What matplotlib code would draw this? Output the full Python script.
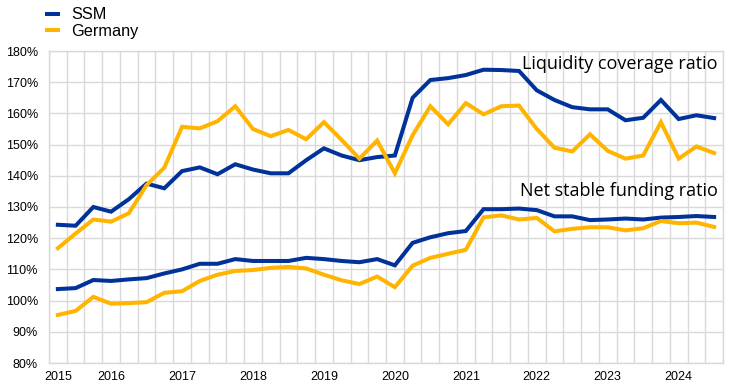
import numpy as np
import matplotlib
matplotlib.use("Agg")
import matplotlib.pyplot as plt

# quarterly data, 2015 Q2 - 2024 Q3
year_labels = ["2015", "2016", "2017", "2018", "2019", "2020", "2021", "2022", "2023", "2024"]
year_pos = [0, 3, 7, 11, 15, 19, 23, 27, 31, 35]

ssm_lcr = [124.3, 124.0, 130.0, 128.5, 132.5, 137.5, 136.0, 141.5, 142.7, 140.5,
           143.7, 142.0, 140.8, 140.8, 145.0, 148.8, 146.5, 145.0, 146.0, 146.5,
           165.0, 170.7, 171.3, 172.3, 174.0, 173.9, 173.6, 167.4, 164.3, 162.0,
           161.3, 161.3, 157.8, 158.6, 164.3, 158.2, 159.4, 158.5]
de_lcr = [116.8, 121.5, 126.0, 125.3, 128.0, 137.0, 142.6, 155.7, 155.2, 157.5,
          162.3, 155.0, 152.7, 154.7, 151.7, 157.2, 151.5, 145.5, 151.3, 140.8,
          153.0, 162.3, 156.5, 163.3, 159.7, 162.3, 162.5, 155.0, 149.0, 147.8,
          153.3, 148.0, 145.5, 146.5, 157.2, 145.5, 149.4, 147.3]
ssm_nsfr = [103.7, 104.0, 106.6, 106.3, 106.8, 107.2, 108.7, 110.0, 111.8, 111.8,
            113.3, 112.7, 112.7, 112.7, 113.7, 113.3, 112.7, 112.3, 113.3, 111.3,
            118.5, 120.3, 121.6, 122.3, 129.3, 129.3, 129.5, 129.0, 127.0, 127.0,
            125.8, 126.0, 126.3, 126.0, 126.6, 126.8, 127.1, 126.8]
de_nsfr = [95.4, 96.7, 101.2, 99.0, 99.2, 99.5, 102.5, 103.0, 106.3, 108.3,
           109.5, 109.8, 110.5, 110.8, 110.3, 108.3, 106.5, 105.3, 107.7, 104.3,
           111.2, 113.7, 115.0, 116.3, 126.7, 127.3, 126.0, 126.5, 122.2, 123.0,
           123.5, 123.5, 122.5, 123.2, 125.5, 124.8, 125.0, 123.6]

blue = "#003299"
yellow = "#ffb400"
grid_c = "#d9d9d9"

plt.rcParams['font.family'] = ['Liberation Sans', 'DejaVu Sans']

fig = plt.figure(figsize=(7.52, 3.92), dpi=100)
ax = fig.add_axes([49/752, 1-363/392, (723-49)/752, (363-51)/392])

x = np.arange(len(ssm_lcr))
ax.plot(x, ssm_lcr, color=blue, lw=2.9, solid_joinstyle="miter", label="SSM")
ax.plot(x, de_lcr, color=yellow, lw=2.9, solid_joinstyle="miter", label="Germany")
ax.plot(x, ssm_nsfr, color=blue, lw=2.9, solid_joinstyle="miter")
ax.plot(x, de_nsfr, color=yellow, lw=2.9, solid_joinstyle="miter")

ax.set_xlim(-0.5, len(x) - 0.5)
ax.set_ylim(80, 180)
ax.set_yticks(np.arange(80, 181, 10))
ax.set_yticklabels([f"{v}%" for v in range(80, 181, 10)], fontsize=9)
ax.set_xticks(year_pos)
ax.set_xticklabels(year_labels, fontsize=9)
ax.set_xticks(np.arange(-0.5, len(x)), minor=True)
ax.grid(False)
ax.grid(True, which="minor", axis="x", color=grid_c, lw=1)
ax.grid(True, which="major", axis="y", color=grid_c, lw=1)
ax.set_axisbelow(True)
ax.tick_params(which="both", length=0)
ax.tick_params(axis="y", pad=8)
ax.tick_params(axis="x", pad=6)
for s in ax.spines.values():
    s.set_color(grid_c)
    s.set_linewidth(1)

ax.text(0.9925, 0.942, "Liquidity coverage ratio", transform=ax.transAxes,
        ha="right", va="baseline", fontsize=13, family=["Open Sans", "DejaVu Sans"])
ax.text(0.9925, 0.535, "Net stable funding ratio", transform=ax.transAxes,
        ha="right", va="baseline", fontsize=13, family=["Open Sans", "DejaVu Sans"])

fig.legend(loc="upper left", bbox_to_anchor=(40/752, 0.998), frameon=False,
           fontsize=11.7, handlelength=0.7, handletextpad=0.8, labelspacing=0.1,
           borderaxespad=0)

fig.savefig("out.png", dpi=100)
